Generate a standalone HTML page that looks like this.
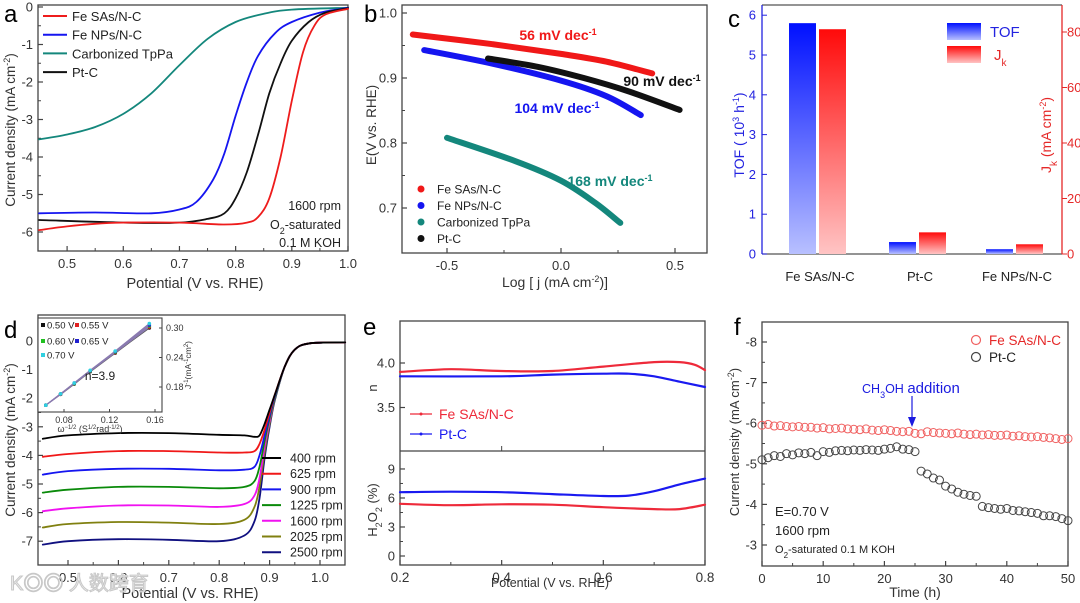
<!DOCTYPE html>
<html><head><meta charset="utf-8"><style>
html,body{margin:0;padding:0;background:#fff;}
svg{display:block;font-family:"Liberation Sans","Noto Sans CJK SC",sans-serif;}
</style></head><body>
<svg id="fig" width="1080" height="603" viewBox="0 0 1080 603" xmlns="http://www.w3.org/2000/svg">
<defs>
<linearGradient id="gBlue" x1="0" y1="0" x2="0" y2="1"><stop offset="0" stop-color="#0010ff"/><stop offset="1" stop-color="#b8c0ff"/></linearGradient>
<linearGradient id="gRed" x1="0" y1="0" x2="0" y2="1"><stop offset="0" stop-color="#ff0a0a"/><stop offset="1" stop-color="#ffc4c4"/></linearGradient>
</defs>
</svg>
<script>
// ---------- Panel a data ----------
const aX_sas=[0.45,0.5,0.55,0.6,0.7,0.78,0.82,0.84,0.86,0.88,0.9,0.92,0.94,0.96,1.0];
const aY_sas=[-5.95,-5.85,-5.78,-5.75,-5.75,-5.8,-5.75,-5.6,-5.1,-4.0,-2.5,-1.2,-0.5,-0.2,-0.05];
const aX_nps=[0.45,0.55,0.65,0.7,0.73,0.76,0.78,0.8,0.82,0.84,0.87,0.9,0.95,1.0];
const aY_nps=[-5.5,-5.48,-5.5,-5.4,-5.2,-4.6,-3.9,-2.9,-2.0,-1.3,-0.7,-0.4,-0.15,-0.02];
const aX_tppa=[0.45,0.5,0.55,0.6,0.65,0.7,0.75,0.8,0.85,0.9,1.0];
const aY_tppa=[-3.53,-3.4,-3.2,-2.85,-2.3,-1.55,-0.85,-0.4,-0.18,-0.07,-0.02];
const aX_pt=[0.45,0.6,0.7,0.75,0.78,0.8,0.82,0.84,0.86,0.88,0.9,0.93,0.96,1.0];
const aY_pt=[-5.68,-5.75,-5.75,-5.65,-5.5,-5.1,-4.4,-3.4,-2.3,-1.5,-0.9,-0.4,-0.15,-0.03];
const aXTicks=[0.5,0.6,0.7,0.8,0.9,1.0];
const aYTicks=[0,-1,-2,-3,-4,-5,-6];
// ---------- Panel b data ----------
const bX_sas=[-0.65,-0.3,0.0,0.2,0.4];
const bY_sas=[0.967,0.952,0.937,0.925,0.907];
const bX_nps=[-0.6,-0.3,0.0,0.2,0.35];
const bY_nps=[0.943,0.922,0.896,0.872,0.843];
const bX_tppa=[-0.5,-0.2,0.0,0.15,0.26];
const bY_tppa=[0.808,0.772,0.742,0.708,0.677];
const bX_pt=[-0.32,-0.1,0.1,0.3,0.52];
const bY_pt=[0.93,0.917,0.9,0.879,0.851];
const bXTicks=[-0.5,0.0,0.5];
const bYTicks=[1.0,0.9,0.8,0.7];
// ---------- Panel c data ----------
const cCats=["Fe SAs/N-C","Pt-C","Fe NPs/N-C"];
const cTOF=[5.8,0.3,0.12];
const cJk=[81,7.8,3.5];
const cLTicks=[0,1,2,3,4,5,6];
const cRTicks=[0,20,40,60,80];
// ---------- Panel d data ----------
const dX=[0.45,0.5,0.6,0.7,0.8,0.85,0.87,0.88,0.89,0.9,0.91,0.93,0.95,0.98,1.05];
const dRpm=["400 rpm","625 rpm","900 rpm","1225 rpm","1600 rpm","2025 rpm","2500 rpm"];
const d400=[-3.42,-3.3,-3.22,-3.22,-3.28,-3.3,-3.35,-3.3,-2.9,-2.4,-1.9,-0.9,-0.3,-0.08,-0.05];
const d625=[-4.05,-3.95,-3.85,-3.85,-3.9,-3.9,-3.85,-3.6,-3.1,-2.5,-1.9,-0.9,-0.3,-0.08,-0.05];
const d900=[-4.67,-4.55,-4.47,-4.47,-4.52,-4.5,-4.4,-4.0,-3.3,-2.6,-1.95,-0.9,-0.3,-0.08,-0.05];
const d1225=[-5.3,-5.2,-5.1,-5.1,-5.15,-5.1,-4.9,-4.4,-3.5,-2.7,-2.0,-0.9,-0.3,-0.08,-0.05];
const d1600=[-5.95,-5.85,-5.75,-5.75,-5.8,-5.7,-5.4,-4.8,-3.7,-2.8,-2.0,-0.9,-0.3,-0.08,-0.05];
const d2025=[-6.52,-6.4,-6.33,-6.35,-6.4,-6.25,-5.8,-5.1,-3.9,-2.9,-2.05,-0.9,-0.3,-0.08,-0.05];
const d2500=[-7.12,-7.0,-6.93,-6.95,-7.0,-6.8,-6.3,-5.5,-4.1,-3.0,-2.1,-0.9,-0.3,-0.08,-0.05];
const dXTicks=[0.5,0.6,0.7,0.8,0.9,1.0];
const dYTicks=[0,-1,-2,-3,-4,-5,-6,-7];
const iX=[0.064,0.077,0.089,0.103,0.125,0.155];
const i050=[0.143,0.165,0.186,0.211,0.249,0.300];
const i055=[0.143,0.165,0.187,0.212,0.250,0.302];
const i060=[0.143,0.166,0.187,0.212,0.251,0.304];
const i065=[0.143,0.166,0.188,0.213,0.252,0.306];
const i070=[0.143,0.166,0.188,0.214,0.253,0.309];
const iXTicks=[0.08,0.12,0.16];
const iYTicks=[0.18,0.24,0.30];
// ---------- Panel e data ----------
const eX_sas=[0.2,0.3,0.4,0.5,0.6,0.7,0.75,0.78,0.8];
const eN_sas=[3.9,3.93,3.91,3.91,3.96,4.01,4.01,3.98,3.92];
const eX_pt=[0.2,0.4,0.5,0.6,0.65,0.7,0.75,0.8];
const eN_pt=[3.85,3.85,3.87,3.88,3.88,3.85,3.79,3.73];
const eHX_sas=[0.2,0.3,0.4,0.5,0.6,0.7,0.75,0.8];
const eH_sas=[5.4,5.25,5.35,5.3,5.05,4.85,4.85,5.3];
const eHX_pt=[0.2,0.3,0.4,0.5,0.6,0.65,0.7,0.75,0.8];
const eH_pt=[6.6,6.65,6.6,6.4,6.2,6.25,6.7,7.4,8.0];
const eXTicks=[0.2,0.4,0.6,0.8];
const eNTicks=[4.0,3.5];
const eHTicks=[0,3,6,9];
// ---------- Panel f data ----------
const fT=[0,1,2,3,4,5,6,7,8,9,10,11,12,13,14,15,16,17,18,19,20,21,22,23,24,25,26,27,28,29,30,31,32,33,34,35,36,37,38,39,40,41,42,43,44,45,46,47,48,49,50];
const fSAs=[-5.95,-5.97,-5.93,-5.94,-5.92,-5.91,-5.92,-5.9,-5.9,-5.88,-5.89,-5.86,-5.87,-5.88,-5.86,-5.85,-5.84,-5.86,-5.83,-5.82,-5.84,-5.82,-5.8,-5.79,-5.8,-5.75,-5.74,-5.79,-5.77,-5.76,-5.75,-5.74,-5.76,-5.73,-5.72,-5.73,-5.71,-5.72,-5.7,-5.7,-5.71,-5.68,-5.69,-5.67,-5.66,-5.67,-5.65,-5.64,-5.62,-5.6,-5.62];
const fPt=[-5.1,-5.15,-5.2,-5.18,-5.25,-5.22,-5.27,-5.25,-5.28,-5.2,-5.3,-5.28,-5.32,-5.33,-5.32,-5.34,-5.33,-5.35,-5.34,-5.33,-5.36,-5.38,-5.42,-5.36,-5.35,-5.3,-4.82,-4.75,-4.65,-4.6,-4.45,-4.38,-4.3,-4.25,-4.22,-4.2,-3.95,-3.92,-3.9,-3.88,-3.9,-3.85,-3.84,-3.82,-3.8,-3.78,-3.72,-3.72,-3.7,-3.65,-3.6];
const fXTicks=[0,10,20,30,40,50];
const fYTicks=[-8,-7,-6,-5,-4,-3];

// ---------- helpers ----------
const NS='http://www.w3.org/2000/svg';
const svg=document.getElementById('fig');
function mk(tag,attrs,parent,name){
  const e=document.createElementNS(NS,tag);
  for(const k in attrs) e.setAttribute(k,attrs[k]);
  
  
  (parent||svg).appendChild(e);
  return e;
}
function txt(x,y,s,opt,name,parent){
  const a={x:x,y:y,'font-size':opt.fs||13,fill:opt.fill||'#222','text-anchor':opt.anchor||'middle'};
  if(opt.bold) a['font-weight']='bold';
  if(opt.rot!==undefined) a.transform='rotate('+opt.rot+' '+x+' '+y+')';
  const t=mk('text',a,parent,name);
  t.innerHTML=s;
  return t;
}
function smooth(pts){
  let d='M'+pts[0][0].toFixed(1)+','+pts[0][1].toFixed(1);
  for(let i=0;i<pts.length-1;i++){
    const p0=pts[i-1]||pts[i],p1=pts[i],p2=pts[i+1],p3=pts[i+2]||p2;
    const c1=[p1[0]+(p2[0]-p0[0])/6,p1[1]+(p2[1]-p0[1])/6];
    const c2=[p2[0]-(p3[0]-p1[0])/6,p2[1]-(p3[1]-p1[1])/6];
    d+='C'+c1[0].toFixed(1)+','+c1[1].toFixed(1)+' '+c2[0].toFixed(1)+','+c2[1].toFixed(1)+' '+p2[0].toFixed(1)+','+p2[1].toFixed(1);
  }
  return d;
}
function curve(xs,ys,sx,sy,color,w,name,parent){
  const pts=xs.map((v,i)=>[sx(v),sy(ys[i])]);
  return mk('path',{d:smooth(pts),fill:'none',stroke:color,'stroke-width':w,'stroke-linecap':'round','stroke-linejoin':'round'},parent,name);
}
function frame(x0,y0,x1,y1,name,color){
  mk('rect',{x:x0,y:y0,width:x1-x0,height:y1-y0,fill:'none',stroke:color||'#444','stroke-width':1.3},null,name);
}
function xTicks(vals,sx,yb,fmt,name,fs,minor){
  vals.forEach(v=>{
    const x=sx(v);
    mk('line',{x1:x,y1:yb,x2:x,y2:yb-5,stroke:'#444','stroke-width':1.2},null,name+'-tick');
    txt(x,yb+17,fmt(v),{fs:fs||13,fill:'#333'},name+'-label');
  });
  if(minor) for(let i=0;i<vals.length-1;i++){const x=(sx(vals[i])+sx(vals[i+1]))/2;mk('line',{x1:x,y1:yb,x2:x,y2:yb-3,stroke:'#444','stroke-width':1},null,name+'-minor-tick');}
}
function yTicks(vals,sy,xl,fmt,name,color,minor,right){
  vals.forEach(v=>{
    const y=sy(v);
    mk('line',{x1:xl,y1:y,x2:xl+5,y2:y,stroke:color||'#444','stroke-width':1.2},null,name+'-tick');
    txt(right?xl+6:xl-5,y+4.5,fmt(v),{fs:13,fill:color||'#333',anchor:right?'start':'end'},name+'-label');
  });
  if(minor) for(let i=0;i<vals.length-1;i++){const y=(sy(vals[i])+sy(vals[i+1]))/2;mk('line',{x1:xl,y1:y,x2:xl+3,y2:y,stroke:color||'#444','stroke-width':1},null,name+'-minor-tick');}
}

// ================= Panel a =================
const xa=v=>39+(v-0.45)/0.55*309, ya=v=>7-v*37.5;
frame(38,5,348,251,'panel-a-frame');
xTicks(aXTicks,xa,251,v=>v.toFixed(1),'panel-a-x',13,true);
yTicks(aYTicks,ya,38,v=>String(v),'panel-a-y',null,true);
curve(aX_tppa,aY_tppa,xa,ya,'#14877c',1.8,'panel-a-carbonized-tppa-curve');
curve(aX_nps,aY_nps,xa,ya,'#1515f0',1.8,'panel-a-fe-nps-curve');
curve(aX_pt,aY_pt,xa,ya,'#111',1.8,'panel-a-pt-c-curve');
curve(aX_sas,aY_sas,xa,ya,'#ee1c1c',1.8,'panel-a-fe-sas-curve');
[['Fe SAs/N-C','#ee1c1c'],['Fe NPs/N-C','#1515f0'],['Carbonized TpPa','#14877c'],['Pt-C','#111']].forEach((l,i)=>{
  const y=16+i*18.7;
  mk('line',{x1:43,y1:y,x2:67,y2:y,stroke:l[1],'stroke-width':2},null,'panel-a-legend-line');
  txt(72,y+5,l[0],{fs:13,anchor:'start'},'panel-a-legend-entry');
});
txt(341,210,'1600 rpm',{fs:12.5,anchor:'end'},'panel-a-note-rpm');
txt(341,229,'O<tspan baseline-shift="sub" font-size="9">2</tspan>-saturated',{fs:12.5,anchor:'end'},'panel-a-note-o2');
txt(341,247,'0.1 M KOH',{fs:12.5,anchor:'end'},'panel-a-note-koh');
txt(195,288,'Potential (V vs. RHE)',{fs:14.5,fill:'#333'},'panel-a-x-axis-title');
txt(15,130,'Current density (mA cm<tspan baseline-shift="super" font-size="9">-2</tspan>)',{fs:13.5,rot:-90,fill:'#333'},'panel-a-y-axis-title');
txt(4,22,'a',{fs:24,anchor:'start',fill:'#000'},'panel-a-letter');

// ================= Panel b =================
const xb=v=>447+(v+0.5)*228, yb=v=>13+(1.0-v)*650;
frame(402,5,707,253,'panel-b-frame');
xTicks(bXTicks,xb,253,v=>v.toFixed(1),'panel-b-x',13,true);
yTicks(bYTicks,yb,402,v=>v.toFixed(1),'panel-b-y',null,true);
curve(bX_tppa,bY_tppa,xb,yb,'#14877c',6,'panel-b-carbonized-tppa-series');
curve(bX_nps,bY_nps,xb,yb,'#1515f0',6,'panel-b-fe-nps-series');
curve(bX_pt,bY_pt,xb,yb,'#111',6,'panel-b-pt-c-series');
curve(bX_sas,bY_sas,xb,yb,'#f01818',6,'panel-b-fe-sas-series');
txt(558,40,'56 mV dec<tspan baseline-shift="super" font-size="9">-1</tspan>',{fs:14,bold:true,fill:'#f01818'},'panel-b-slope-fe-sas');
txt(662,86,'90 mV dec<tspan baseline-shift="super" font-size="9">-1</tspan>',{fs:14,bold:true,fill:'#111'},'panel-b-slope-pt-c');
txt(557,113,'104 mV dec<tspan baseline-shift="super" font-size="9">-1</tspan>',{fs:14,bold:true,fill:'#1515f0'},'panel-b-slope-fe-nps');
txt(610,186,'168 mV dec<tspan baseline-shift="super" font-size="9">-1</tspan>',{fs:14,bold:true,fill:'#14877c'},'panel-b-slope-tppa');
[['Fe SAs/N-C','#f01818'],['Fe NPs/N-C','#1515f0'],['Carbonized TpPa','#14877c'],['Pt-C','#111']].forEach((l,i)=>{
  const y=189+i*16.5;
  mk('circle',{cx:421,cy:y,r:3.5,fill:l[1]},null,'panel-b-legend-marker');
  txt(437,y+4.5,l[0],{fs:12,anchor:'start'},'panel-b-legend-entry');
});
txt(555,287,'Log [ j (mA cm<tspan baseline-shift="super" font-size="9">-2</tspan>)]',{fs:14,fill:'#333'},'panel-b-x-axis-title');
txt(376,125,'E(V vs. RHE)',{fs:13.5,rot:-90,fill:'#333'},'panel-b-y-axis-title');
txt(364,22,'b',{fs:24,anchor:'start',fill:'#000'},'panel-b-letter');

// ================= Panel c =================
const yL=v=>254-v*39.8, yR=v=>254-v*2.775;
const cCenters=[820,920,1017];
mk('line',{x1:762,y1:5,x2:1062,y2:5,stroke:'#555','stroke-width':1.2},null,'panel-c-top-border');
mk('line',{x1:762,y1:254,x2:1062,y2:254,stroke:'#555','stroke-width':1.3},null,'panel-c-x-axis');
mk('line',{x1:762,y1:5,x2:762,y2:254,stroke:'#2323e0','stroke-width':1.3},null,'panel-c-left-axis');
mk('line',{x1:1062,y1:5,x2:1062,y2:254,stroke:'#e52828','stroke-width':1.3},null,'panel-c-right-axis');
cLTicks.forEach(v=>{const y=yL(v);mk('line',{x1:762,y1:y,x2:767,y2:y,stroke:'#2323e0'},null,'panel-c-left-tick');txt(756,y+4.5,String(v),{fs:13,fill:'#2323e0',anchor:'end'},'panel-c-left-tick-label');});
cRTicks.forEach(v=>{const y=yR(v);mk('line',{x1:1062,y1:y,x2:1067,y2:y,stroke:'#e52828'},null,'panel-c-right-tick');txt(1067,y+4.5,String(v),{fs:13,fill:'#e52828',anchor:'start'},'panel-c-right-tick-label');});
cCats.forEach((c,i)=>{
  const cx=cCenters[i];
  let y=yL(cTOF[i]);
  mk('rect',{x:cx-31,y:y,width:27,height:254-y,fill:'url(#gBlue)'},null,'panel-c-bar-tof');
  y=yR(cJk[i]);
  mk('rect',{x:cx-1,y:y,width:27,height:254-y,fill:'url(#gRed)'},null,'panel-c-bar-jk');
  txt(cx,281,c,{fs:13,fill:'#222'},'panel-c-category-label');
});
mk('rect',{x:947,y:23,width:34,height:17,fill:'url(#gBlue)'},null,'panel-c-legend-tof-swatch');
mk('rect',{x:947,y:46,width:34,height:17,fill:'url(#gRed)'},null,'panel-c-legend-jk-swatch');
txt(990,37,'TOF',{fs:15,fill:'#2323e0',anchor:'start'},'panel-c-legend-tof');
txt(994,60,'J<tspan baseline-shift="sub" font-size="10">k</tspan>',{fs:15,fill:'#e52828',anchor:'start'},'panel-c-legend-jk');
txt(744,135,'TOF ( 10<tspan baseline-shift="super" font-size="9">3</tspan> h<tspan baseline-shift="super" font-size="9">-1</tspan>)',{fs:14,rot:-90,fill:'#2323e0'},'panel-c-left-axis-title');
txt(1051,135,'J<tspan baseline-shift="sub" font-size="10">k</tspan> (mA cm<tspan baseline-shift="super" font-size="9">-2</tspan>)',{fs:14,rot:-90,fill:'#e52828'},'panel-c-right-axis-title');
txt(728,27,'c',{fs:24,anchor:'start',fill:'#000'},'panel-c-letter');

// ================= Panel d =================
const xd=v=>68+(v-0.5)*504, yd=v=>341-v*28.6;
frame(38,315,345,565,'panel-d-frame');
xTicks(dXTicks,xd,565,v=>v.toFixed(1),'panel-d-x',13,true);
yTicks(dYTicks,yd,38,v=>String(v),'panel-d-y',null,true);
const dSeries=[d400,d625,d900,d1225,d1600,d2025,d2500];
const dColors=['#000','#f01818','#1515f0','#0a8a0a','#f012f0','#808010','#101080'];
for(let i=dSeries.length-1;i>=0;i--) curve(dX,dSeries[i],xd,yd,dColors[i],1.8,'panel-d-curve-'+dRpm[i].replace(' ','-'));
dRpm.forEach((r,i)=>{
  const y=458+i*15.7;
  mk('line',{x1:262,y1:y,x2:281,y2:y,stroke:dColors[i],'stroke-width':2},null,'panel-d-legend-line');
  txt(290,y+4.5,r,{fs:12.5,anchor:'start'},'panel-d-legend-entry');
});
txt(190,598,'Potential (V vs. RHE)',{fs:14.5,fill:'#333'},'panel-d-x-axis-title');
txt(15,440,'Current density (mA cm<tspan baseline-shift="super" font-size="9">-2</tspan>)',{fs:13.5,rot:-90,fill:'#333'},'panel-d-y-axis-title');
txt(4,338,'d',{fs:24,anchor:'start',fill:'#000'},'panel-d-letter');
// inset
const xi=v=>64+(v-0.08)*1137.5, yi=v=>328+(0.30-v)*491.7;
mk('rect',{x:38,y:318,width:124,height:94,fill:'#fff',stroke:'#444','stroke-width':1.1},null,'inset-frame');
iXTicks.forEach(v=>{const x=xi(v);mk('line',{x1:x,y1:412,x2:x,y2:409,stroke:'#444'},null,'inset-x-tick');txt(x,423,v.toFixed(2),{fs:9,fill:'#333'},'inset-x-tick-label');});
iYTicks.forEach(v=>{const y=yi(v);mk('line',{x1:162,y1:y,x2:159,y2:y,stroke:'#444'},null,'inset-y-tick');txt(166,y+3,v.toFixed(2),{fs:9,fill:'#333',anchor:'start'},'inset-y-tick-label');});
const iSeries=[i050,i055,i060,i065,i070];
const iColors=['#111','#e02020','#20c020','#2020d0','#30d0e0'];
const iLab=['0.50 V','0.55 V','0.60 V','0.65 V','0.70 V'];
iSeries.forEach((s,k)=>{
  curve(iX,s,xi,yi,k===0?'#555':'#8a7ab0',1.2,'inset-fit-line');
  iX.forEach((v,j)=>mk('circle',{cx:xi(v),cy:yi(s[j]),r:1.8,fill:iColors[k]},null,'inset-point'));
});
[[43,325],[77,325],[43,341],[77,341],[43,355]].forEach((p,k)=>{
  mk('rect',{x:p[0]-2,y:p[1]-2,width:4,height:4,fill:iColors[k]},null,'inset-legend-marker');
  txt(p[0]+4,p[1]+3.5,iLab[k],{fs:9.5,anchor:'start'},'inset-legend-entry');
});
txt(100,380,'n=3.9',{fs:12,anchor:'middle'},'inset-n-value');
txt(90,432,'ω<tspan baseline-shift="super" font-size="6">−1/2</tspan> (S<tspan baseline-shift="super" font-size="6">1/2</tspan>rad<tspan baseline-shift="super" font-size="6">-1/2</tspan>)',{fs:9,fill:'#333'},'inset-x-axis-title');
txt(191,365,'J<tspan baseline-shift="super" font-size="6">-1</tspan>(mA<tspan baseline-shift="super" font-size="6">-1</tspan>cm<tspan baseline-shift="super" font-size="6">2</tspan>)',{fs:8.5,rot:-90,fill:'#333'},'inset-y-axis-title');
txt(10,590,'K◎◎ 人数跨育',{fs:20,anchor:'start',fill:'#f0f0f0'},'watermark').setAttribute('stroke','#c8c8c8');

// ================= Panel e =================
const xe=v=>400+(v-0.2)*508.3, yn=v=>363+(4.0-v)*89, yh=v=>556-v*9.67;
frame(400,321,705,565,'panel-e-frame');
mk('line',{x1:400,y1:451,x2:705,y2:451,stroke:'#444','stroke-width':1.3},null,'panel-e-divider');
xTicks(eXTicks,xe,565,v=>v.toFixed(1),'panel-e-x',13.5,true);
eXTicks.forEach(v=>mk('line',{x1:xe(v),y1:451,x2:xe(v),y2:446,stroke:'#444'},null,'panel-e-top-x-tick'));
yTicks(eNTicks,yn,400,v=>v.toFixed(1),'panel-e-n-y',null,false);
yTicks(eHTicks,yh,400,v=>String(v),'panel-e-h2o2-y',null,true);
curve(eX_sas,eN_sas,xe,yn,'#ee2a3a',2.2,'panel-e-n-fe-sas');
curve(eX_pt,eN_pt,xe,yn,'#1a1af0',2.2,'panel-e-n-pt-c');
curve(eHX_sas,eH_sas,xe,yh,'#ee2a3a',2.2,'panel-e-h2o2-fe-sas');
curve(eHX_pt,eH_pt,xe,yh,'#1a1af0',2.2,'panel-e-h2o2-pt-c');
[['Fe SAs/N-C','#ee2a3a',414],['Pt-C','#1a1af0',434]].forEach(l=>{
  mk('line',{x1:410,y1:l[2],x2:432,y2:l[2],stroke:l[1],'stroke-width':1.3},null,'panel-e-legend-line');
  mk('circle',{cx:421,cy:l[2],r:1.5,fill:l[1]},null,'panel-e-legend-marker');
  txt(439,l[2]+5,l[0],{fs:14,fill:l[1],anchor:'start'},'panel-e-legend-entry');
});
txt(550,587,'Potential (V vs. RHE)',{fs:12.5,fill:'#333'},'panel-e-x-axis-title');
txt(377,388,'n',{fs:13,rot:-90,fill:'#333'},'panel-e-n-axis-title');
txt(377,510,'H<tspan baseline-shift="sub" font-size="9">2</tspan>O<tspan baseline-shift="sub" font-size="9">2</tspan> (%)',{fs:13,rot:-90,fill:'#333'},'panel-e-h2o2-axis-title');
txt(363,335,'e',{fs:24,anchor:'start',fill:'#000'},'panel-e-letter');

// ================= Panel f =================
const xf=v=>762+v*6.12, yf=v=>342+(v+8)*40.6;
frame(762,322,1068,566,'panel-f-frame');
xTicks(fXTicks,xf,566,v=>String(v),'panel-f-x',13,true);
yTicks(fYTicks,yf,762,v=>String(v),'panel-f-y',null,true);
fT.forEach((t,i)=>mk('circle',{cx:xf(t),cy:yf(fPt[i]),r:4,fill:'none',stroke:'#444','stroke-width':1},null,'panel-f-pt-c-point'));
fT.forEach((t,i)=>mk('circle',{cx:xf(t),cy:yf(fSAs[i]),r:4,fill:'none',stroke:'#f06060','stroke-width':1},null,'panel-f-fe-sas-point'));
mk('circle',{cx:976,cy:340,r:4.5,fill:'none',stroke:'#f06060','stroke-width':1.2},null,'panel-f-legend-marker');
txt(989,345,'Fe SAs/N-C',{fs:13.5,fill:'#e52828',anchor:'start'},'panel-f-legend-fe-sas');
mk('circle',{cx:976,cy:357,r:4.5,fill:'none',stroke:'#444','stroke-width':1.2},null,'panel-f-legend-marker');
txt(989,362,'Pt-C',{fs:13.5,fill:'#222',anchor:'start'},'panel-f-legend-pt-c');
txt(862,393,'CH<tspan baseline-shift="sub" font-size="9">3</tspan>OH <tspan font-size="15">addition</tspan>',{fs:12.5,fill:'#1a1ae0',anchor:'start'},'panel-f-annotation');
mk('line',{x1:912,y1:396,x2:912,y2:420,stroke:'#1a1ae0','stroke-width':1.2},null,'panel-f-arrow');
mk('path',{d:'M908,417 L916,417 L912,427 Z',fill:'#1a1ae0'},null,'panel-f-arrowhead');
txt(775,516,'E=0.70 V',{fs:13,anchor:'start'},'panel-f-note-e');
txt(775,535,'1600 rpm',{fs:13,anchor:'start'},'panel-f-note-rpm');
txt(775,553,'O<tspan baseline-shift="sub" font-size="8">2</tspan>-saturated 0.1 M KOH',{fs:11,anchor:'start'},'panel-f-note-o2');
txt(915,597,'Time (h)',{fs:14,fill:'#333'},'panel-f-x-axis-title');
txt(739,442,'Current density (mA cm<tspan baseline-shift="super" font-size="9">-2</tspan>)',{fs:13,rot:-90,fill:'#333'},'panel-f-y-axis-title');
txt(734,335,'f',{fs:24,anchor:'start',fill:'#000'},'panel-f-letter');
</script>
</body></html>
